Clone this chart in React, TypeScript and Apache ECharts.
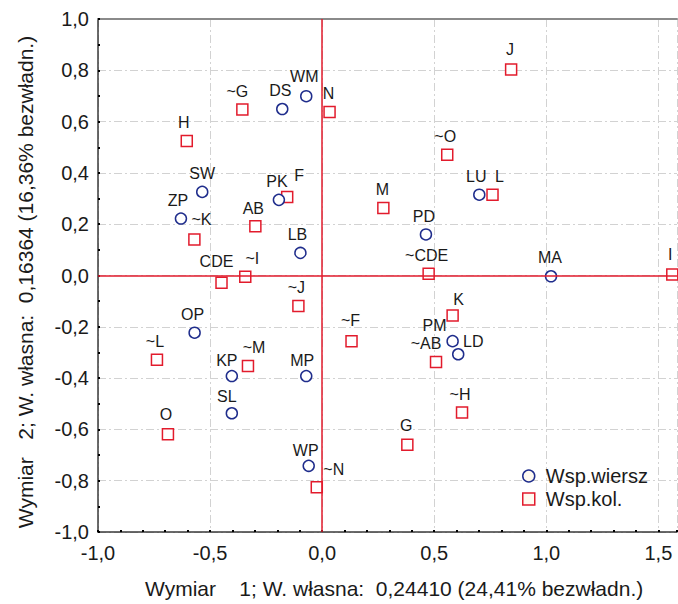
import React, { useEffect, useRef } from "react";
import * as echarts from "echarts";

// Row coordinates (Wsp.wiersz)
const rowLabels = ["WM", "DS", "SW", "ZP", "PK", "LB", "LU", "PD", "MA", "OP", "KP", "MP", "SL", "WP", "PM", "LD"];
const rowX = [-0.071, -0.178, -0.535, -0.63, -0.193, -0.097, 0.701, 0.463, 1.021, -0.569, -0.403, -0.071, -0.403, -0.06, 0.582, 0.607];
const rowY = [0.699, 0.649, 0.326, 0.222, 0.295, 0.088, 0.315, 0.16, -0.003, -0.223, -0.392, -0.392, -0.537, -0.742, -0.256, -0.307];

// Column coordinates (Wsp.kol.)
const colLabels = ["~G", "N", "H", "~K", "F", "AB", "CDE", "~I", "J", "~O", "L", "M", "~CDE", "I", "~J", "~L", "~M", "O", "~N", "~F", "K", "~AB", "~H", "G"];
const colX = [-0.356, 0.033, -0.604, -0.57, -0.156, -0.298, -0.449, -0.343, 0.843, 0.558, 0.76, 0.273, 0.475, 1.562, -0.106, -0.737, -0.331, -0.688, -0.024, 0.131, 0.582, 0.508, 0.624, 0.38];
const colY = [0.647, 0.637, 0.524, 0.14, 0.306, 0.192, -0.028, -0.005, 0.803, 0.471, 0.315, 0.263, 0.007, 0.004, -0.119, -0.328, -0.353, -0.619, -0.826, -0.256, -0.156, -0.337, -0.534, -0.66];

const xTicks = [-1.0, -0.5, 0.0, 0.5, 1.0, 1.5];
const yTicks = [-1.0, -0.8, -0.6, -0.4, -0.2, 0.0, 0.2, 0.4, 0.6, 0.8, 1.0];

const seriesNames = ["Wsp.wiersz", "Wsp.kol."];
const xTitle = "Wymiar    1; W. własna:  0,24410 (24,41% bezwładn.)";
const yTitle = "Wymiar   2; W. własna:  0,16364 (16,36% bezwładn.)";

// label nudges (pixels) – layout only
const labelNudge: Record<string, [number, number]> = {
  WM: [-2, -1], DS: [-2, 0], SW: [0, 0], ZP: [-3, 0], PK: [-2, 0], LB: [-3, 0], LU: [-3, 0], PD: [-2, 0],
  MA: [-1, -1], OP: [-2, 0], KP: [-5, 3], MP: [-4, 3], SL: [-5, 2], WP: [-3, 3], PM: [-18, 3], LD: [15, 6],
  "~G": [-5, 0], N: [-1, 0], H: [-3, 0], "~K": [7, -2], F: [12, -3], AB: [-2, 0], CDE: [-5, -3], "~I": [7, 0],
  J: [-1, -2], "~O": [-2, 0], L: [7, 0], M: [-1, 0], "~CDE": [-2, 0], I: [-2, -2], "~J": [-2, 0], "~L": [-2, 0],
  "~M": [6, 0], O: [-2, -2], "~N": [17, 0], "~F": [-1, -2], K: [6, 2], "~AB": [-10, 0], "~H": [-2, 0], G: [-1, -1],
};

const FONT = "Liberation Sans, Arial, sans-serif";

export default function App() {
  const ref = useRef<HTMLDivElement>(null);
  useEffect(() => {
    if (!ref.current) return;
    const chart = echarts.init(ref.current, null, { renderer: "svg" });
    const mk = (labels: string[], xs: number[], ys: number[]) =>
      labels.map((n, i) => ({
        name: n,
        value: [xs[i], ys[i]],
        label: { offset: labelNudge[n] || [0, 0] },
      }));
    const tickFmt = (arr: number[]) => (v: number) =>
      arr.some((t) => Math.abs(t - v) < 1e-6) ? v.toFixed(1).replace(".", ",") : "";
    const pointLabel = {
      show: true,
      position: "top",
      distance: 4,
      formatter: (p: any) => p.name,
      color: "#1a1a1a",
      fontSize: 16,
      fontFamily: FONT,
    };
    const splitStyle = { show: true, lineStyle: { color: "#d2d2d2", width: 1, type: [8, 3, 2, 3] } };
    chart.setOption({
      animation: false,
      backgroundColor: "#ffffff",
      grid: { left: 98, right: 1, top: 19, bottom: 72, containLabel: false },
      legend: {
        orient: "vertical",
        left: 517,
        top: 461,
        itemWidth: 12,
        itemHeight: 12,
        itemGap: 3,
        textStyle: { fontSize: 20, fontFamily: FONT, color: "#1a1a1a", padding: [0, 0, 0, 6], lineHeight: 20 },
        data: [
          { name: seriesNames[0], icon: "circle", itemStyle: { color: "#fffaf0", borderColor: "#1f2d8c", borderWidth: 1.5 } },
          { name: seriesNames[1], icon: "rect", itemStyle: { color: "#fffaf0", borderColor: "#e21b2c", borderWidth: 1.5 } },
        ],
      },
      xAxis: [
        {
          type: "value",
          min: -1,
          max: 1.583,
          interval: 0.5,
          axisLine: { show: true, onZero: false, lineStyle: { color: "#3a3a3a", width: 1.5 } },
          axisTick: { show: true, inside: true, length: 2, lineStyle: { color: "#000", width: 2 } },
          minorTick: { show: true, splitNumber: 5, length: 2, lineStyle: { color: "#000", width: 2 } },
          axisLabel: { formatter: tickFmt(xTicks), fontSize: 20, fontFamily: FONT, color: "#1a1a1a", margin: 11, showMaxLabel: false },
          splitLine: splitStyle,
        },
        {
          type: "value",
          position: "top",
          min: -1,
          max: 1.583,
          axisLine: { show: true, onZero: false, lineStyle: { color: "#8a8a8a", width: 2 } },
          axisTick: { show: false },
          axisLabel: { show: false },
          splitLine: { show: false },
        },
      ],
      yAxis: {
        type: "value",
        min: -1,
        max: 1,
        interval: 0.2,
        axisLine: { show: true, onZero: false, lineStyle: { color: "#3a3a3a", width: 1.5 } },
        axisTick: { show: true, inside: true, length: 2, lineStyle: { color: "#000", width: 2 } },
        minorTick: { show: true, splitNumber: 2, length: 2, lineStyle: { color: "#000", width: 2 } },
        axisLabel: { formatter: tickFmt(yTicks), fontSize: 20, fontFamily: FONT, color: "#1a1a1a", margin: 9 },
        splitLine: splitStyle,
      },
      graphic: [
        {
          type: "text",
          left: 145,
          top: 578,
          style: { text: xTitle, fontSize: 21, fontFamily: FONT, fill: "#1a1a1a" },
        },
        {
          type: "text",
          x: 25,
          y: 282,
          rotation: Math.PI / 2,
          style: { text: yTitle, fontSize: 21, fontFamily: FONT, fill: "#1a1a1a", align: "center", verticalAlign: "middle" },
        },
      ],
      series: [
        {
          name: seriesNames[1],
          type: "scatter",
          symbol: "rect",
          symbolSize: 11,
          itemStyle: { color: "#ffffff", borderColor: "#e21b2c", borderWidth: 1.5, opacity: 1 },
          label: pointLabel,
          data: mk(colLabels, colX, colY),
          markLine: {
            silent: true,
            symbol: "none",
            label: { show: false },
            lineStyle: { color: "#e21b2c", width: 1.5, type: "solid" },
            data: [{ xAxis: 0 }, { yAxis: 0 }],
          },
          z: 3,
        },
        {
          name: seriesNames[0],
          type: "scatter",
          symbol: "circle",
          symbolSize: 11,
          itemStyle: { color: "#ffffff", borderColor: "#1f2d8c", borderWidth: 1.5, opacity: 1 },
          label: pointLabel,
          data: mk(rowLabels, rowX, rowY),
          z: 4,
        },
      ],
    });
    return () => chart.dispose();
  }, []);
  return <div ref={ref} style={{ position: "fixed", left: 0, top: 0, width: 678, height: 604 }} />;
}
